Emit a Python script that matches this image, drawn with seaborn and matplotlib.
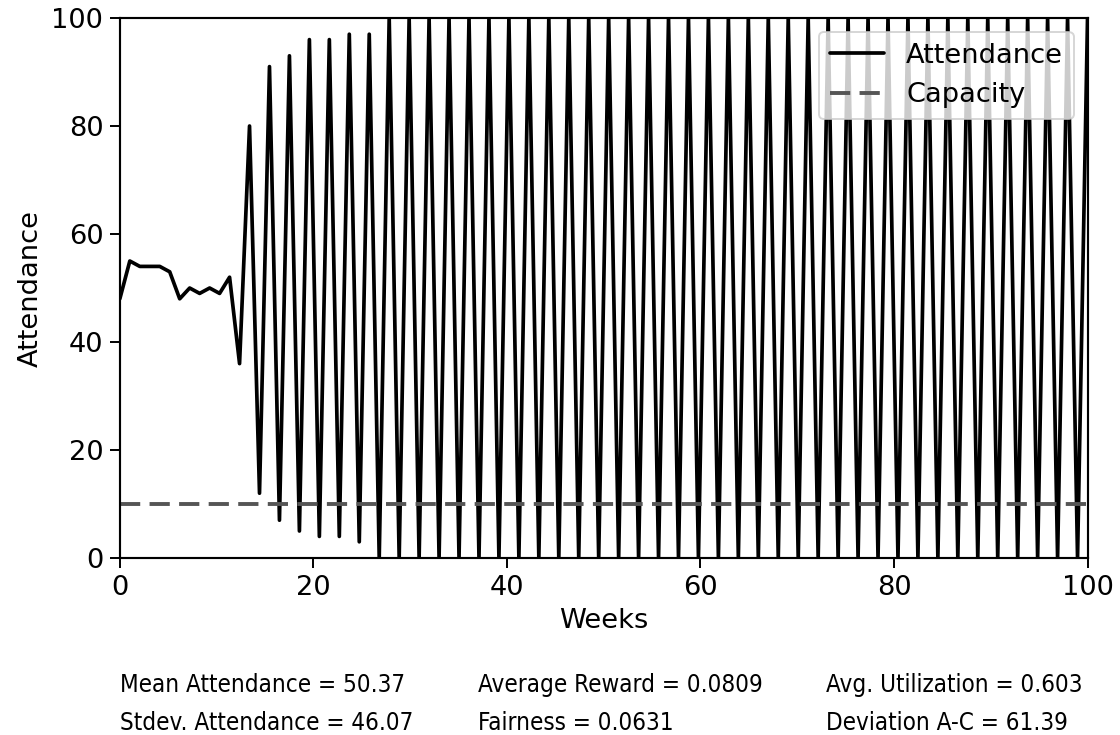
import numpy as np
import pandas as pd
import matplotlib
matplotlib.use("Agg")
import matplotlib.pyplot as plt
import seaborn as sns

# Weekly attendance of the bar (100 agents, 100 recorded weeks)
attendance = [
    48, 55, 54, 54, 54, 53, 48, 50, 49, 50, 49, 52,
    36, 80, 12, 91, 7, 93, 5, 96, 4, 96, 4, 97, 3, 97,
    0, 100, 0, 100, 0, 100, 0, 100, 0, 100, 0, 100, 0, 100,
    0, 100, 0, 100, 0, 100, 0, 100, 0, 100, 0, 100, 0, 100,
    0, 100, 0, 100, 0, 100, 0, 100, 0, 100, 0, 100, 0, 100,
    0, 100, 0, 100, 0, 100, 0, 100, 0, 100, 0, 100, 0, 100,
    0, 100, 0, 100, 0, 100, 0, 100, 0, 100, 0, 100, 0, 100,
    0, 100,
]
capacity = 10
weeks = np.linspace(0, 100, len(attendance))

stats_col1 = ["Mean Attendance = 50.37", "Stdev. Attendance = 46.07"]
stats_col2 = ["Average Reward = 0.0809", "Fairness = 0.0631"]
stats_col3 = ["Avg. Utilization = 0.603", "Deviation A-C = 61.39"]

df = pd.DataFrame({"Weeks": weeks, "Attendance": attendance})

sns.set_style("ticks")
plt.rcParams["font.family"] = ["DejaVu Sans"]
plt.rcParams["text.color"] = "black"
plt.rcParams["axes.labelcolor"] = "black"

fig, ax = plt.subplots(figsize=(8, 5.25), dpi=140)
fig.subplots_adjust(left=0.107, right=0.971, top=0.9755, bottom=0.2408)

sns.lineplot(data=df, x="Weeks", y="Attendance", ax=ax, color="black",
             linewidth=1.9, label="Attendance")
ax.axhline(capacity, color="#555555", linestyle="--", linewidth=2.0,
           dashes=(5.2, 2.4), label="Capacity")

ax.set_xlim(0, 100)
ax.set_ylim(0, 100)
ax.set_xlabel("Weeks", fontsize=14)
ax.set_ylabel("Attendance", fontsize=14)
ax.tick_params(labelsize=14, length=5, width=1.0, colors="black")
for s in ax.spines.values():
    s.set_linewidth(1.1)
    s.set_color("black")

ax.legend(loc="upper right", fontsize=14, frameon=True, framealpha=0.8,
          edgecolor="#cccccc", borderaxespad=0.5)

# Summary statistics below the axes, three columns of two rows
xs = [0.107, 0.4265, 0.7375]
ys = [0.068, 0.017]
for x, col in zip(xs, [stats_col1, stats_col2, stats_col3]):
    for y, txt in zip(ys, col):
        fig.text(x, y, txt, fontsize=12.4, va="center", ha="left",
                 family="DejaVu Sans", fontstretch="condensed")

fig.savefig("out.png", dpi=140)
